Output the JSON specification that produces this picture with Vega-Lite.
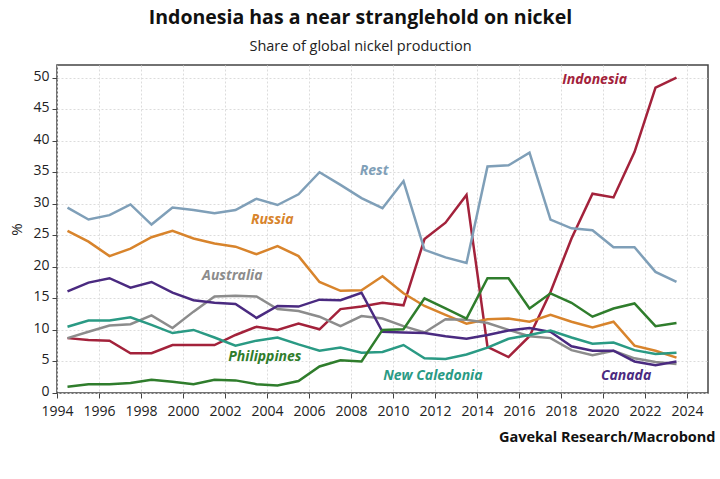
{
  "$schema": "https://vega.github.io/schema/vega-lite/v6.json",
  "width": 651,
  "height": 328,
  "autosize": "none",
  "padding": {"left": 57, "top": 65, "right": 12, "bottom": 86},
  "background": "white",
  "title": {
    "text": "Indonesia has a near stranglehold on nickel",
    "subtitle": "Share of global nickel production",
    "anchor": "middle",
    "dx": -22,
    "font": "Open Sans",
    "fontSize": 19.5,
    "fontWeight": "bold",
    "color": "#111",
    "subtitleFont": "Open Sans",
    "subtitleFontSize": 14.5,
    "subtitleColor": "#222",
    "subtitlePadding": 11,
    "offset": 11
  },
  "datasets": {
    "lines": [
      {"series": "Indonesia", "year": 1994.5, "share": 8.7}, {"series": "Indonesia", "year": 1995.5, "share": 8.4}, {"series": "Indonesia", "year": 1996.5, "share": 8.3}, {"series": "Indonesia", "year": 1997.5, "share": 6.3}, {"series": "Indonesia", "year": 1998.5, "share": 6.3}, {"series": "Indonesia", "year": 1999.5, "share": 7.6}, {"series": "Indonesia", "year": 2000.5, "share": 7.6}, {"series": "Indonesia", "year": 2001.5, "share": 7.6}, {"series": "Indonesia", "year": 2002.5, "share": 9.2}, {"series": "Indonesia", "year": 2003.5, "share": 10.5}, {"series": "Indonesia", "year": 2004.5, "share": 10.0}, {"series": "Indonesia", "year": 2005.5, "share": 11.0}, {"series": "Indonesia", "year": 2006.5, "share": 10.1}, {"series": "Indonesia", "year": 2007.5, "share": 13.3}, {"series": "Indonesia", "year": 2008.5, "share": 13.7}, {"series": "Indonesia", "year": 2009.5, "share": 14.3}, {"series": "Indonesia", "year": 2010.5, "share": 13.9}, {"series": "Indonesia", "year": 2011.5, "share": 24.4}, {"series": "Indonesia", "year": 2012.5, "share": 27.0}, {"series": "Indonesia", "year": 2013.5, "share": 31.4}, {"series": "Indonesia", "year": 2014.5, "share": 7.3}, {"series": "Indonesia", "year": 2015.5, "share": 5.7}, {"series": "Indonesia", "year": 2016.5, "share": 9.0}, {"series": "Indonesia", "year": 2017.5, "share": 16.0}, {"series": "Indonesia", "year": 2018.5, "share": 24.5}, {"series": "Indonesia", "year": 2019.5, "share": 31.6}, {"series": "Indonesia", "year": 2020.5, "share": 31.0}, {"series": "Indonesia", "year": 2021.5, "share": 38.2}, {"series": "Indonesia", "year": 2022.5, "share": 48.4}, {"series": "Indonesia", "year": 2023.5, "share": 50.0},
      {"series": "Rest", "year": 1994.5, "share": 29.4}, {"series": "Rest", "year": 1995.5, "share": 27.5}, {"series": "Rest", "year": 1996.5, "share": 28.2}, {"series": "Rest", "year": 1997.5, "share": 29.9}, {"series": "Rest", "year": 1998.5, "share": 26.7}, {"series": "Rest", "year": 1999.5, "share": 29.4}, {"series": "Rest", "year": 2000.5, "share": 29.0}, {"series": "Rest", "year": 2001.5, "share": 28.5}, {"series": "Rest", "year": 2002.5, "share": 29.0}, {"series": "Rest", "year": 2003.5, "share": 30.8}, {"series": "Rest", "year": 2004.5, "share": 29.8}, {"series": "Rest", "year": 2005.5, "share": 31.5}, {"series": "Rest", "year": 2006.5, "share": 35.0}, {"series": "Rest", "year": 2007.5, "share": 33.0}, {"series": "Rest", "year": 2008.5, "share": 30.9}, {"series": "Rest", "year": 2009.5, "share": 29.3}, {"series": "Rest", "year": 2010.5, "share": 33.6}, {"series": "Rest", "year": 2011.5, "share": 22.7}, {"series": "Rest", "year": 2012.5, "share": 21.5}, {"series": "Rest", "year": 2013.5, "share": 20.6}, {"series": "Rest", "year": 2014.5, "share": 35.9}, {"series": "Rest", "year": 2015.5, "share": 36.1}, {"series": "Rest", "year": 2016.5, "share": 38.1}, {"series": "Rest", "year": 2017.5, "share": 27.5}, {"series": "Rest", "year": 2018.5, "share": 26.1}, {"series": "Rest", "year": 2019.5, "share": 25.8}, {"series": "Rest", "year": 2020.5, "share": 23.1}, {"series": "Rest", "year": 2021.5, "share": 23.1}, {"series": "Rest", "year": 2022.5, "share": 19.2}, {"series": "Rest", "year": 2023.5, "share": 17.6},
      {"series": "Russia", "year": 1994.5, "share": 25.7}, {"series": "Russia", "year": 1995.5, "share": 24.0}, {"series": "Russia", "year": 1996.5, "share": 21.7}, {"series": "Russia", "year": 1997.5, "share": 22.9}, {"series": "Russia", "year": 1998.5, "share": 24.7}, {"series": "Russia", "year": 1999.5, "share": 25.7}, {"series": "Russia", "year": 2000.5, "share": 24.5}, {"series": "Russia", "year": 2001.5, "share": 23.7}, {"series": "Russia", "year": 2002.5, "share": 23.2}, {"series": "Russia", "year": 2003.5, "share": 22.0}, {"series": "Russia", "year": 2004.5, "share": 23.3}, {"series": "Russia", "year": 2005.5, "share": 21.7}, {"series": "Russia", "year": 2006.5, "share": 17.6}, {"series": "Russia", "year": 2007.5, "share": 16.2}, {"series": "Russia", "year": 2008.5, "share": 16.3}, {"series": "Russia", "year": 2009.5, "share": 18.5}, {"series": "Russia", "year": 2010.5, "share": 15.8}, {"series": "Russia", "year": 2011.5, "share": 13.8}, {"series": "Russia", "year": 2012.5, "share": 12.4}, {"series": "Russia", "year": 2013.5, "share": 11.0}, {"series": "Russia", "year": 2014.5, "share": 11.7}, {"series": "Russia", "year": 2015.5, "share": 11.8}, {"series": "Russia", "year": 2016.5, "share": 11.3}, {"series": "Russia", "year": 2017.5, "share": 12.4}, {"series": "Russia", "year": 2018.5, "share": 11.3}, {"series": "Russia", "year": 2019.5, "share": 10.4}, {"series": "Russia", "year": 2020.5, "share": 11.3}, {"series": "Russia", "year": 2021.5, "share": 7.5}, {"series": "Russia", "year": 2022.5, "share": 6.7}, {"series": "Russia", "year": 2023.5, "share": 5.6},
      {"series": "Australia", "year": 1994.5, "share": 8.7}, {"series": "Australia", "year": 1995.5, "share": 9.7}, {"series": "Australia", "year": 1996.5, "share": 10.7}, {"series": "Australia", "year": 1997.5, "share": 10.9}, {"series": "Australia", "year": 1998.5, "share": 12.3}, {"series": "Australia", "year": 1999.5, "share": 10.3}, {"series": "Australia", "year": 2000.5, "share": 12.9}, {"series": "Australia", "year": 2001.5, "share": 15.3}, {"series": "Australia", "year": 2002.5, "share": 15.4}, {"series": "Australia", "year": 2003.5, "share": 15.3}, {"series": "Australia", "year": 2004.5, "share": 13.3}, {"series": "Australia", "year": 2005.5, "share": 13.0}, {"series": "Australia", "year": 2006.5, "share": 12.1}, {"series": "Australia", "year": 2007.5, "share": 10.6}, {"series": "Australia", "year": 2008.5, "share": 12.2}, {"series": "Australia", "year": 2009.5, "share": 11.8}, {"series": "Australia", "year": 2010.5, "share": 10.6}, {"series": "Australia", "year": 2011.5, "share": 9.6}, {"series": "Australia", "year": 2012.5, "share": 11.7}, {"series": "Australia", "year": 2013.5, "share": 11.6}, {"series": "Australia", "year": 2014.5, "share": 11.1}, {"series": "Australia", "year": 2015.5, "share": 10.0}, {"series": "Australia", "year": 2016.5, "share": 9.0}, {"series": "Australia", "year": 2017.5, "share": 8.7}, {"series": "Australia", "year": 2018.5, "share": 6.8}, {"series": "Australia", "year": 2019.5, "share": 6.0}, {"series": "Australia", "year": 2020.5, "share": 6.7}, {"series": "Australia", "year": 2021.5, "share": 5.5}, {"series": "Australia", "year": 2022.5, "share": 4.9}, {"series": "Australia", "year": 2023.5, "share": 4.6},
      {"series": "Canada", "year": 1994.5, "share": 16.1}, {"series": "Canada", "year": 1995.5, "share": 17.5}, {"series": "Canada", "year": 1996.5, "share": 18.2}, {"series": "Canada", "year": 1997.5, "share": 16.7}, {"series": "Canada", "year": 1998.5, "share": 17.6}, {"series": "Canada", "year": 1999.5, "share": 15.9}, {"series": "Canada", "year": 2000.5, "share": 14.7}, {"series": "Canada", "year": 2001.5, "share": 14.3}, {"series": "Canada", "year": 2002.5, "share": 14.1}, {"series": "Canada", "year": 2003.5, "share": 11.9}, {"series": "Canada", "year": 2004.5, "share": 13.8}, {"series": "Canada", "year": 2005.5, "share": 13.7}, {"series": "Canada", "year": 2006.5, "share": 14.8}, {"series": "Canada", "year": 2007.5, "share": 14.7}, {"series": "Canada", "year": 2008.5, "share": 15.9}, {"series": "Canada", "year": 2009.5, "share": 9.7}, {"series": "Canada", "year": 2010.5, "share": 9.6}, {"series": "Canada", "year": 2011.5, "share": 9.5}, {"series": "Canada", "year": 2012.5, "share": 9.0}, {"series": "Canada", "year": 2013.5, "share": 8.6}, {"series": "Canada", "year": 2014.5, "share": 9.2}, {"series": "Canada", "year": 2015.5, "share": 9.9}, {"series": "Canada", "year": 2016.5, "share": 10.3}, {"series": "Canada", "year": 2017.5, "share": 9.7}, {"series": "Canada", "year": 2018.5, "share": 7.4}, {"series": "Canada", "year": 2019.5, "share": 6.7}, {"series": "Canada", "year": 2020.5, "share": 6.7}, {"series": "Canada", "year": 2021.5, "share": 5.0}, {"series": "Canada", "year": 2022.5, "share": 4.4}, {"series": "Canada", "year": 2023.5, "share": 5.0},
      {"series": "New Caledonia", "year": 1994.5, "share": 10.5}, {"series": "New Caledonia", "year": 1995.5, "share": 11.5}, {"series": "New Caledonia", "year": 1996.5, "share": 11.5}, {"series": "New Caledonia", "year": 1997.5, "share": 12.0}, {"series": "New Caledonia", "year": 1998.5, "share": 10.8}, {"series": "New Caledonia", "year": 1999.5, "share": 9.5}, {"series": "New Caledonia", "year": 2000.5, "share": 10.0}, {"series": "New Caledonia", "year": 2001.5, "share": 8.8}, {"series": "New Caledonia", "year": 2002.5, "share": 7.5}, {"series": "New Caledonia", "year": 2003.5, "share": 8.3}, {"series": "New Caledonia", "year": 2004.5, "share": 8.8}, {"series": "New Caledonia", "year": 2005.5, "share": 7.7}, {"series": "New Caledonia", "year": 2006.5, "share": 6.7}, {"series": "New Caledonia", "year": 2007.5, "share": 7.2}, {"series": "New Caledonia", "year": 2008.5, "share": 6.4}, {"series": "New Caledonia", "year": 2009.5, "share": 6.5}, {"series": "New Caledonia", "year": 2010.5, "share": 7.6}, {"series": "New Caledonia", "year": 2011.5, "share": 5.5}, {"series": "New Caledonia", "year": 2012.5, "share": 5.4}, {"series": "New Caledonia", "year": 2013.5, "share": 6.1}, {"series": "New Caledonia", "year": 2014.5, "share": 7.2}, {"series": "New Caledonia", "year": 2015.5, "share": 8.6}, {"series": "New Caledonia", "year": 2016.5, "share": 9.2}, {"series": "New Caledonia", "year": 2017.5, "share": 9.9}, {"series": "New Caledonia", "year": 2018.5, "share": 8.8}, {"series": "New Caledonia", "year": 2019.5, "share": 7.8}, {"series": "New Caledonia", "year": 2020.5, "share": 8.0}, {"series": "New Caledonia", "year": 2021.5, "share": 6.8}, {"series": "New Caledonia", "year": 2022.5, "share": 6.2}, {"series": "New Caledonia", "year": 2023.5, "share": 6.4},
      {"series": "Philippines", "year": 1994.5, "share": 1.0}, {"series": "Philippines", "year": 1995.5, "share": 1.4}, {"series": "Philippines", "year": 1996.5, "share": 1.4}, {"series": "Philippines", "year": 1997.5, "share": 1.6}, {"series": "Philippines", "year": 1998.5, "share": 2.1}, {"series": "Philippines", "year": 1999.5, "share": 1.8}, {"series": "Philippines", "year": 2000.5, "share": 1.4}, {"series": "Philippines", "year": 2001.5, "share": 2.1}, {"series": "Philippines", "year": 2002.5, "share": 2.0}, {"series": "Philippines", "year": 2003.5, "share": 1.4}, {"series": "Philippines", "year": 2004.5, "share": 1.2}, {"series": "Philippines", "year": 2005.5, "share": 1.9}, {"series": "Philippines", "year": 2006.5, "share": 4.2}, {"series": "Philippines", "year": 2007.5, "share": 5.2}, {"series": "Philippines", "year": 2008.5, "share": 5.0}, {"series": "Philippines", "year": 2009.5, "share": 10.0}, {"series": "Philippines", "year": 2010.5, "share": 10.1}, {"series": "Philippines", "year": 2011.5, "share": 15.0}, {"series": "Philippines", "year": 2012.5, "share": 13.4}, {"series": "Philippines", "year": 2013.5, "share": 11.8}, {"series": "Philippines", "year": 2014.5, "share": 18.2}, {"series": "Philippines", "year": 2015.5, "share": 18.2}, {"series": "Philippines", "year": 2016.5, "share": 13.4}, {"series": "Philippines", "year": 2017.5, "share": 15.8}, {"series": "Philippines", "year": 2018.5, "share": 14.3}, {"series": "Philippines", "year": 2019.5, "share": 12.1}, {"series": "Philippines", "year": 2020.5, "share": 13.4}, {"series": "Philippines", "year": 2021.5, "share": 14.2}, {"series": "Philippines", "year": 2022.5, "share": 10.6}, {"series": "Philippines", "year": 2023.5, "share": 11.1}
    ],
    "labels": [
      {"series": "Indonesia", "year": 2019.6, "share": 49.6},
      {"series": "Rest", "year": 2009.1, "share": 35.2},
      {"series": "Russia", "year": 2004.25, "share": 27.4},
      {"series": "Australia", "year": 2002.35, "share": 18.5},
      {"series": "Philippines", "year": 2003.9, "share": 5.7},
      {"series": "New Caledonia", "year": 2011.9, "share": 2.7},
      {"series": "Canada", "year": 2021.1, "share": 2.7}
    ]
  },
  "encoding": {
    "x": {
      "field": "year",
      "type": "quantitative",
      "scale": {"domain": [1994, 2025], "nice": false, "zero": false},
      "axis": {
        "values": [1994, 1996, 1998, 2000, 2002, 2004, 2006, 2008, 2010, 2012, 2014, 2016, 2018, 2020, 2022, 2024],
        "format": "d",
        "labelOverlap": false,
        "labelFlush": false,
        "labelPadding": 6,
        "title": "Gavekal Research/Macrobond",
        "titleAnchor": "end",
        "titleAlign": "right",
        "titleX": 658,
        "titlePadding": 12,
        "titleFont": "Open Sans",
        "titleFontSize": 14.5,
        "titleFontWeight": "bold",
        "titleColor": "#111"
      }
    },
    "y": {
      "field": "share",
      "type": "quantitative",
      "scale": {"domain": [0, 52], "nice": false},
      "axis": {
        "values": [0, 5, 10, 15, 20, 25, 30, 35, 40, 45, 50],
        "labelOffset": -1.5,
        "title": "%",
        "titleFont": "Open Sans",
        "titleFontSize": 15,
        "titleFontWeight": "normal",
        "titleColor": "#222",
        "titlePadding": 8
      }
    },
    "color": {
      "field": "series",
      "type": "nominal",
      "scale": {
        "domain": ["Indonesia", "Rest", "Russia", "Australia", "Canada", "New Caledonia", "Philippines"],
        "range": ["#a3223b", "#7f9fb8", "#d8842c", "#8c8c8c", "#4a2a80", "#2a9a84", "#2f7d2c"]
      },
      "legend": null
    }
  },
  "layer": [
    {
      "data": {"name": "lines"},
      "mark": {"type": "line", "strokeWidth": 2.5, "strokeJoin": "miter"},
      "encoding": {"detail": {"field": "series"}}
    },
    {
      "data": {"name": "labels"},
      "mark": {
        "type": "text",
        "font": "Open Sans",
        "fontSize": 14,
        "fontWeight": "bold",
        "fontStyle": "italic",
        "align": "center",
        "baseline": "middle"
      },
      "encoding": {"text": {"field": "series"}}
    }
  ],
  "config": {
    "view": {"stroke": "#444", "strokeWidth": 1.5},
    "axis": {
      "domain": false,
      "grid": true,
      "gridColor": "#dcdcdc",
      "gridDash": [2, 2],
      "gridWidth": 1,
      "ticks": true,
      "tickColor": "#444",
      "tickSize": 5,
      "tickWidth": 1,
      "labelFont": "Open Sans",
      "labelFontSize": 14,
      "labelColor": "#222",
      "labelPadding": 3
    }
  }
}
